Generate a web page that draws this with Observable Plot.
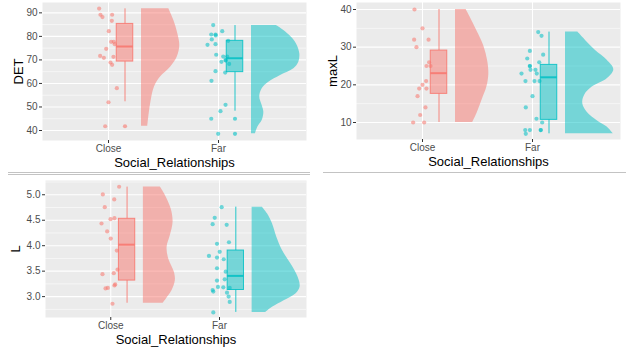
<!DOCTYPE html>
<html><head><meta charset="utf-8">
<script src="https://cdn.jsdelivr.net/npm/d3@7"></script>
<script src="https://cdn.jsdelivr.net/npm/@observablehq/plot@0.6"></script>
<style>
body{margin:0;background:#fff;}
#wrap{position:relative;width:630px;height:349px;overflow:hidden;font-family:"Liberation Sans",Arial,sans-serif;}
.panel{position:absolute;}
.sep{position:absolute;height:0;border-top:1px solid #C3C3C3;z-index:2;}
</style></head><body>
<div id="wrap"></div>
<script>
const groups = ["Close", "Far"];
const colors = ["#F8766D", "#00BFC4"];
const xTitle = "Social_Relationships";

// ---------- DET ----------
const detCloseValues = [91.8, 89.2, 88.2, 89.2, 86.6, 82.2, 77.7, 77.7, 76.7, 74.7, 71.7, 70.9, 71.3, 68.9, 67.9, 58.0, 52.0, 41.8];
const detCloseJitter = [-0.085, -0.073, -0.055, 0.033, 0.03, 0.003, 0.024, 0.048, 0.057, -0.021, -0.076, -0.042, 0.045, 0.018, 0.033, 0.076, 0, -0.03];
const detCloseOutliers = [41.8];
const detCloseBox = [52.2, 69.3, 75.7, 85.3, 91.7]; // low, q1, median, q3, high
const detCloseViolinY = [91.7, 86.7, 81.1, 76.1, 71.2, 66.9, 62.7, 58.5, 52.8, 47.2, 41.8];
const detCloseViolinW = [0.248, 0.294, 0.33, 0.348, 0.325, 0.264, 0.173, 0.118, 0.088, 0.07, 0.057];

const detFarValues = [84.8, 82.2, 80.8, 80.8, 80.4, 78.7, 76.4, 76.7, 78.1, 72.2, 71.4, 71.4, 69.2, 69.7, 68.3, 70.0, 65.2, 64.6, 61.1, 50.9, 48.2, 45.0, 38.6];
const detFarJitter = [-0.048, 0.034, -0.066, -0.027, -0.025, -0.061, -0.1, -0.027, 0.088, -0.021, 0.043, 0.079, 0.027, 0.066, 0.097, 0.064, -0.027, 0.061, -0.064, 0.064, 0.018, -0.066, -0.003];
const detFarOutliers = [45.0, 38.6];
const detFarBox = [48.2, 64.8, 70.7, 78.1, 84.6];
const detFarViolinY = [84.6, 82.5, 79.7, 76.8, 72.6, 69.0, 66.2, 63.4, 60.5, 57.7, 54.2, 50.6, 47.8, 44.2, 41.4, 38.6];
const detFarViolinW = [0.227, 0.294, 0.361, 0.409, 0.439, 0.43, 0.385, 0.264, 0.157, 0.097, 0.075, 0.097, 0.112, 0.097, 0.057, 0.036];

// ---------- maxL ----------
const maxLCloseValues = [40, 35, 32, 32, 30, 26, 25, 25, 21, 20, 19, 19, 17, 14, 12, 10, 10];
const maxLCloseJitter = [-0.073, 0, -0.076, 0.055, -0.055, 0.06, 0.036, 0.073, 0.033, 0, -0.03, 0.036, -0.045, 0.027, -0.021, -0.085, 0.015];
const maxLCloseOutliers = [];
const maxLCloseBox = [10, 17.6, 23.1, 29.1, 40];
const maxLCloseViolinY = [40, 37.1, 33.5, 30, 26.5, 22.9, 19.4, 15.8, 12.3, 10];
const maxLCloseViolinW = [0.097, 0.148, 0.209, 0.261, 0.291, 0.303, 0.285, 0.239, 0.194, 0.157];

const maxLFarValues = [34, 33, 29, 28, 27, 26, 25, 25, 24, 24, 23, 23, 21, 21, 21, 17, 14, 11, 10, 8, 8, 8, 8, 7];
const maxLFarJitter = [0.052, 0.082, -0.024, 0.097, -0.048, 0.061, -0.024, -0.024, -0.018, 0.027, 0.039, -0.1, -0.064, 0.018, 0.064, 0, -0.061, 0.036, 0.088, -0.066, -0.024, 0.075, 0.075, -0.061];
const maxLFarOutliers = [];
const maxLFarBox = [7, 10.7, 22, 25.3, 34];
const maxLFarViolinY = [34, 31.8, 29.1, 26.5, 24, 21.6, 19.4, 17.2, 15, 12.75, 10.5, 8.8, 7];
const maxLFarViolinW = [0.112, 0.182, 0.273, 0.379, 0.439, 0.379, 0.243, 0.173, 0.157, 0.197, 0.288, 0.379, 0.434];

// ---------- L ----------
const lCloseValues = [5.157, 5.006, 4.908, 4.757, 4.54, 4.52, 4.436, 4.28, 4.14, 3.905, 3.53, 3.44, 3.46, 3.24, 3.22, 3.17, 3.16, 2.86];
const lCloseJitter = [0.077, -0.073, 0.032, -0.055, 0.034, -0.002, -0.085, -0.033, 0, 0.056, 0.062, -0.076, 0.028, 0.041, 0.034, -0.027, -0.048, 0.016];
const lCloseOutliers = [];
const lCloseBox = [2.87, 3.315, 4.02, 4.528, 5.15];
const lCloseViolinY = [5.15, 4.987, 4.725, 4.462, 4.2, 3.97, 3.74, 3.478, 3.315, 3.118, 2.955, 2.87];
const lCloseViolinW = [0.156, 0.202, 0.255, 0.273, 0.248, 0.218, 0.233, 0.285, 0.294, 0.264, 0.211, 0.181];

const lFarValues = [4.757, 4.548, 4.422, 4.41, 4.068, 4.036, 3.88, 3.8, 3.767, 3.734, 3.557, 3.49, 3.34, 3.315, 3.19, 3.183, 3.13, 3.1, 3.17, 3.078, 3.0, 2.896, 2.69];
const lFarJitter = [0.02, -0.044, -0.063, 0.066, 0.087, -0.023, 0.002, -0.097, -0.023, 0.039, -0.023, 0.057, 0.048, -0.023, -0.014, 0.035, -0.063, -0.057, 0.094, 0.069, 0.084, 0.094, -0.057];
const lFarOutliers = [];
const lFarBox = [2.69, 3.13, 3.407, 3.905, 4.757];
const lFarViolinY = [4.757, 4.626, 4.43, 4.167, 3.905, 3.643, 3.38, 3.184, 3.053, 2.92, 2.79, 2.69];
const lFarViolinW = [0.095, 0.141, 0.187, 0.227, 0.279, 0.356, 0.423, 0.441, 0.402, 0.294, 0.187, 0.126];

// tick values
const detTicks = [40, 50, 60, 70, 80, 90];
const detMinor = [45, 55, 65, 75, 85];
const maxLTicks = [10, 20, 30, 40];
const maxLMinor = [15, 25, 35];
const lTicks = [3.0, 3.5, 4.0, 4.5, 5.0];
const lMinor = [2.75, 3.25, 3.75, 4.25, 4.75, 5.25];

const FONT = '"Liberation Sans", Arial, Helvetica, sans-serif';
const BOX_OFF = 0.15, BOX_HALF = 0.075, VIOLIN_OFF = 0.3;

function groupData(values, jitter, outliers, box, vy, vw) {
  return {
    points: values.map((v, i) => ({v, j: jitter[i]})),
    outliers,
    box: {low: box[0], q1: box[1], med: box[2], q3: box[3], high: box[4]},
    violin: vy.map((y, i) => ({y, w: vw[i]}))
  };
}

function makePanel(cfg) {
  const marks = [
    Plot.frame({fill: "#EBEBEB", stroke: null}),
    Plot.gridY(cfg.minor, {stroke: "white", strokeOpacity: 1, strokeWidth: 0.55}),
    Plot.gridY(cfg.major, {stroke: "white", strokeOpacity: 1, strokeWidth: 1.1}),
    Plot.gridX([1, 2], {stroke: "white", strokeOpacity: 1, strokeWidth: 1.1})
  ];
  cfg.groups.forEach((g, gi) => {
    const pos = gi + 1;
    const col = colors[gi];
    marks.push(Plot.areaX(g.violin, {
      y: "y", x1: () => pos + VIOLIN_OFF, x2: d => pos + VIOLIN_OFF + d.w,
      fill: col, fillOpacity: 0.5, curve: "catmull-rom"
    }));
    marks.push(Plot.dot(g.points, {
      x: d => pos + d.j, y: "v", r: 2.1, fill: col, fillOpacity: 0.55, stroke: null
    }));
    const b = g.box;
    marks.push(Plot.ruleX([{a: b.low, c: b.q1}, {a: b.q3, c: b.high}], {
      x: () => pos + BOX_OFF, y1: "a", y2: "c", stroke: col, strokeWidth: 1, strokeOpacity: 0.85
    }));
    marks.push(Plot.rect([b], {
      x1: () => pos + BOX_OFF - BOX_HALF, x2: () => pos + BOX_OFF + BOX_HALF,
      y1: "q1", y2: "q3", fill: col, fillOpacity: 0.5, stroke: col, strokeWidth: 1, strokeOpacity: 0.85
    }));
    marks.push(Plot.ruleY([b], {
      y: "med", x1: () => pos + BOX_OFF - BOX_HALF, x2: () => pos + BOX_OFF + BOX_HALF,
      stroke: col, strokeWidth: 2, strokeOpacity: 0.85
    }));
    marks.push(Plot.dot(g.outliers, {
      x: () => pos + BOX_OFF, y: d => d, r: 2.1, fill: col, fillOpacity: 0.6, stroke: null
    }));
  });
  marks.push(
    Plot.axisY(cfg.major, {tickFormat: cfg.fmt, tickSize: 3, tickPadding: 2, fontSize: 10,
      fill: "#4D4D4D", stroke: "#333333", label: null}),
    Plot.axisX([1, 2], {tickFormat: d => groups[d - 1], tickSize: 3, tickPadding: 1, fontSize: 10,
      fill: "#4D4D4D", stroke: "#333333", label: null}),
    Plot.text([cfg.yLabel], {text: d => d, frameAnchor: "left", dx: cfg.yDx, rotate: -90,
      textAnchor: "middle", lineAnchor: "middle", fontSize: 13, fill: "black"}),
    Plot.text([xTitle], {text: d => d, frameAnchor: "bottom", dy: cfg.xDy,
      textAnchor: "middle", lineAnchor: "middle", fontSize: 13, fill: "black"})
  );
  const svg = Plot.plot({
    width: cfg.width, height: cfg.height,
    marginLeft: cfg.mL, marginRight: cfg.mR, marginTop: cfg.mT, marginBottom: cfg.mB,
    x: {domain: [0.4, 2.8]},
    y: {domain: cfg.yDomain},
    style: {fontFamily: FONT, background: "transparent", overflow: "visible"},
    marks
  });
  svg.classList.add("panel");
  svg.style.left = cfg.left + "px";
  svg.style.top = cfg.top + "px";
  return svg;
}

const wrap = document.getElementById("wrap");

wrap.appendChild(makePanel({
  left: 0, top: 0, width: 315, height: 170, mL: 42, mR: 9, mT: 2, mB: 30,
  yDomain: [35.75, 94.4], major: detTicks, minor: detMinor, fmt: d3.format("d"),
  yLabel: "DET", yDx: -24, xDy: 22,
  groups: [
    groupData(detCloseValues, detCloseJitter, detCloseOutliers, detCloseBox, detCloseViolinY, detCloseViolinW),
    groupData(detFarValues, detFarJitter, detFarOutliers, detFarBox, detFarViolinY, detFarViolinW)
  ]
}));

wrap.appendChild(makePanel({
  left: 315, top: 0, width: 315, height: 170, mL: 41, mR: 10, mT: 2, mB: 31,
  yDomain: [5.49, 41.86], major: maxLTicks, minor: maxLMinor, fmt: d3.format("d"),
  yLabel: "maxL", yDx: -23.5, xDy: 22.7,
  groups: [
    groupData(maxLCloseValues, maxLCloseJitter, maxLCloseOutliers, maxLCloseBox, maxLCloseViolinY, maxLCloseViolinW),
    groupData(maxLFarValues, maxLFarJitter, maxLFarOutliers, maxLFarBox, maxLFarViolinY, maxLFarViolinW)
  ]
}));

wrap.appendChild(makePanel({
  left: 0, top: 175, width: 315, height: 174, mL: 45, mR: 9, mT: 5, mB: 32,
  yDomain: [2.59, 5.28], major: lTicks, minor: lMinor, fmt: d3.format(".1f"),
  yLabel: "L", yDx: -30, xDy: 22.6,
  groups: [
    groupData(lCloseValues, lCloseJitter, lCloseOutliers, lCloseBox, lCloseViolinY, lCloseViolinW),
    groupData(lFarValues, lFarJitter, lFarOutliers, lFarBox, lFarViolinY, lFarViolinW)
  ]
}));

[[8, 172, 302], [8, 174, 302], [323, 172, 303]].forEach(([l, t, w]) => {
  const d = document.createElement("div");
  d.className = "sep";
  d.style.left = l + "px"; d.style.top = t + "px"; d.style.width = w + "px";
  wrap.appendChild(d);
});
</script>
</body></html>
